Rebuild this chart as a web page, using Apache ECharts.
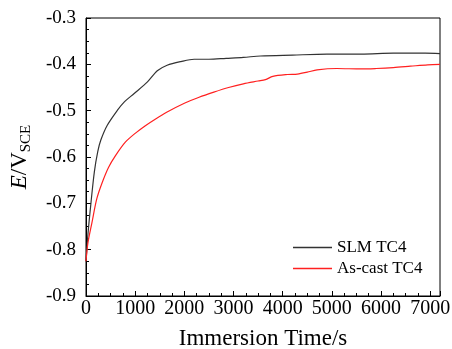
<!DOCTYPE html>
<html>
<head>
<meta charset="utf-8">
<script src="https://cdn.jsdelivr.net/npm/echarts@6/dist/echarts.min.js"></script>
<style>html,body{margin:0;padding:0;background:#fff}#c{width:452px;height:349px}</style>
</head>
<body>
<div id="c"></div>
<script>
var seriesNames = ['SLM TC4', 'As-cast TC4'];
var slmTime = [0, 40, 100, 170, 240, 300, 430, 640, 780, 980, 1250, 1450, 1650, 1930, 2200, 2500, 2850, 3200, 3550, 4200, 4900, 5600, 6250, 6900, 7200];
var slmE = [-0.825, -0.766, -0.700, -0.632, -0.588, -0.564, -0.532, -0.499, -0.481, -0.463, -0.438, -0.414, -0.402, -0.394, -0.389, -0.389, -0.387, -0.385, -0.382, -0.380, -0.378, -0.378, -0.376, -0.376, -0.377];
var castTime = [0, 40, 120, 220, 330, 460, 600, 800, 1000, 1200, 1400, 1650, 2000, 2300, 2600, 2900, 3200, 3500, 3650, 3800, 4100, 4300, 4500, 4700, 5100, 5600, 5900, 6250, 6600, 6950, 7200];
var castE = [-0.825, -0.785, -0.742, -0.690, -0.655, -0.622, -0.597, -0.568, -0.549, -0.533, -0.519, -0.503, -0.484, -0.471, -0.460, -0.450, -0.442, -0.436, -0.433, -0.426, -0.422, -0.421, -0.417, -0.412, -0.409, -0.410, -0.409, -0.407, -0.404, -0.401, -0.400];
var xTicks = [0, 1000, 2000, 3000, 4000, 5000, 6000, 7000];
var yTicks = [-0.9, -0.8, -0.7, -0.6, -0.5, -0.4, -0.3];

function pairs(xs, ys) { return xs.map(function (x, i) { return [x, ys[i]]; }); }
var font = 'Liberation Serif';
var chart = echarts.init(document.getElementById('c'), null, {renderer: 'canvas'});
chart.setOption({
  animation: false,
  backgroundColor: '#fff',
  grid: {left: 86, right: 12, top: 18, bottom: 53, containLabel: false, outerBoundsMode: 'none',
         show: true, borderColor: '#000', borderWidth: 1, backgroundColor: 'transparent'},
  legend: {
    orient: 'vertical', left: 288, top: 234, itemGap: 4, itemWidth: 39, itemHeight: 1.3, icon: 'rect',
    textStyle: {fontFamily: font, fontSize: 17, color: '#000'},
    data: seriesNames
  },
  xAxis: {
    type: 'value', min: 0, max: 7200, interval: 1000,
    name: 'Immersion Time/s', nameLocation: 'middle', nameGap: 31,
    nameTextStyle: {fontFamily: font, fontSize: 23, color: '#000'},
    axisLine: {show: true, lineStyle: {color: '#000', width: 1}},
    axisTick: {show: true, inside: true, length: 5, lineStyle: {color: '#000'}},
    minorTick: {show: true, splitNumber: 4, length: 3, lineStyle: {color: '#000'}},
    splitLine: {show: false},
    axisLabel: {
      fontFamily: font, fontSize: 20, color: '#000', margin: 3,
      formatter: function (v) { return xTicks.indexOf(v) >= 0 ? String(v) : ''; }
    }
  },
  yAxis: {
    type: 'value', min: -0.9, max: -0.3, interval: 0.1,
    name: '{i|E}{n|/V}{s|SCE}', nameLocation: 'middle', nameGap: 55,
    nameTextStyle: {
      fontFamily: font, fontSize: 23, color: '#000',
      rich: {
        i: {fontFamily: font, fontSize: 23, fontStyle: 'italic', color: '#000', verticalAlign: 'bottom'},
        n: {fontFamily: font, fontSize: 23, color: '#000', verticalAlign: 'bottom'},
        s: {fontFamily: font, fontSize: 15, color: '#000', verticalAlign: 'bottom', padding: [0, 0, -3, 0]}
      }
    },
    axisLine: {show: true, lineStyle: {color: '#000', width: 1}},
    axisTick: {show: true, inside: true, length: 5, lineStyle: {color: '#000'}},
    minorTick: {show: true, splitNumber: 4, length: 3, lineStyle: {color: '#000'}},
    splitLine: {show: false},
    axisLabel: {
      fontFamily: font, fontSize: 19, color: '#000', margin: 10,
      formatter: function (v) {
        for (var k = 0; k < yTicks.length; k++) { if (Math.abs(v - yTicks[k]) < 1e-6) return yTicks[k].toFixed(1); }
        return '';
      }
    }
  },
  series: [
    {name: seriesNames[0], type: 'line', data: pairs(slmTime, slmE), symbol: 'none', smooth: 0.3,
     lineStyle: {color: '#333', width: 1.2}, itemStyle: {color: '#333'}},
    {name: seriesNames[1], type: 'line', data: pairs(castTime, castE), symbol: 'none', smooth: 0.3,
     lineStyle: {color: '#ff2020', width: 1.2}, itemStyle: {color: '#ff2020'}}
  ]
});
</script>
</body>
</html>
